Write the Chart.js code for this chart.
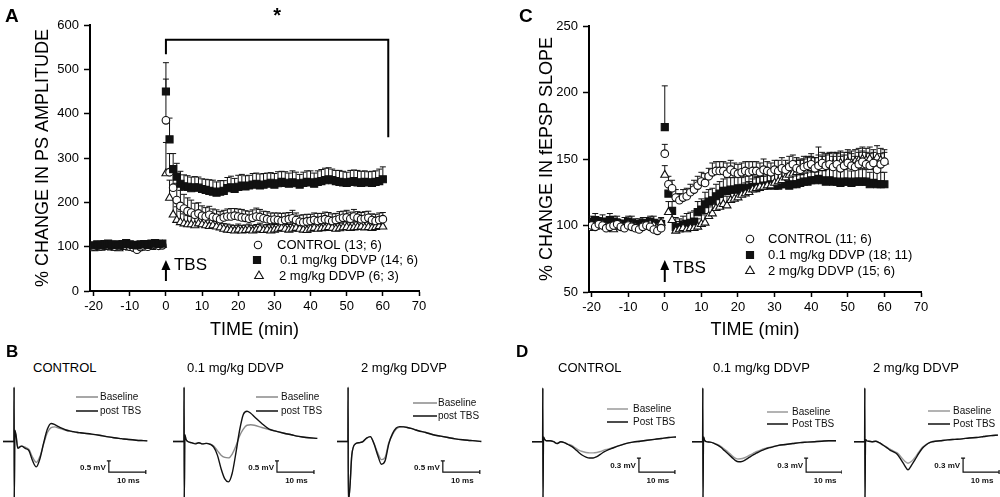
<!DOCTYPE html>
<html><head><meta charset="utf-8">
<script src="https://cdn.jsdelivr.net/npm/chart.js@4.4.0/dist/chart.umd.min.js"></script>
<style>
html,body{margin:0;padding:0;background:#fff;}
#wrap{position:relative;width:1000px;height:497px;overflow:hidden;font-family:'Liberation Sans',Arial,sans-serif;color:#000;}
canvas{position:absolute;}
.lbl{position:absolute;line-height:1;white-space:nowrap;}
.big{font-weight:bold;}
</style></head><body>
<div id="wrap">
<canvas id="cA" width="470" height="345" style="left:0;top:0"></canvas>
<canvas id="cC" width="440" height="345" style="left:500px;top:0"></canvas>
<canvas id="b1" width="152" height="112" style="left:3px;top:385px"></canvas>
<canvas id="b2" width="152" height="112" style="left:173px;top:385px"></canvas>
<canvas id="b3" width="152" height="112" style="left:337px;top:385px"></canvas>
<canvas id="d1" width="150" height="112" style="left:532px;top:385px"></canvas>
<canvas id="d2" width="150" height="112" style="left:692px;top:385px"></canvas>
<canvas id="d3" width="146" height="112" style="left:854px;top:385px"></canvas>
<div class="lbl big" style="left:5px;top:6px;font-size:19px">A</div>
<div class="lbl big" style="left:519px;top:6px;font-size:19px">C</div>
<div class="lbl big" style="left:6px;top:343px;font-size:17px">B</div>
<div class="lbl big" style="left:516px;top:343px;font-size:17px">D</div>
<div class="lbl" style="left:33px;top:361px;font-size:13px">CONTROL</div>
<div class="lbl" style="left:187px;top:361px;font-size:13px">0.1 mg/kg DDVP</div>
<div class="lbl" style="left:361px;top:361px;font-size:13px">2 mg/kg DDVP</div>
<div class="lbl" style="left:558px;top:361px;font-size:13px">CONTROL</div>
<div class="lbl" style="left:713px;top:361px;font-size:13px">0.1 mg/kg DDVP</div>
<div class="lbl" style="left:873px;top:361px;font-size:13px">2 mg/kg DDVP</div>
</div>
<script>
const FONT = "'Liberation Sans', Arial, sans-serif";

// ---------- time axis (min) ----------
const timeMin = [-20,-19,-18,-17,-16,-15,-14,-13,-12,-11,-10,-9,-8,-7,-6,-5,-4,-3,-2,-1,
0,1,2,3,4,5,6,7,8,9,10,11,12,13,14,15,16,17,18,19,20,21,22,23,24,25,26,27,28,29,
30,31,32,33,34,35,36,37,38,39,40,41,42,43,44,45,46,47,48,49,50,51,52,53,54,55,56,57,58,59,60];
const xTicks = [-20,-10,0,10,20,30,40,50,60,70];
const ampTicks = [0,100,200,300,400,500,600];
const slopeTicks = [50,100,150,200,250];

// ---------- Panel A: PS amplitude (%) ----------
const ampLabels = ['CONTROL (13; 6)','0.1 mg/kg DDVP (14; 6)','2 mg/kg DDVP (6; 3)'];
const ampControl = [100,102,101,104,103,102,100,101,104,102,100,98,93,99,101,100,103,104,102,103,
385,268,233,205,192,186,180,177,172,175,
170,168,172,167,165,162,166,168,168,170,
168,166,165,163,165,168,167,164,162,160,
161,160,158,160,162,164,160,156,155,157,
158,160,158,160,162,160,158,160,163,165,
166,163,168,165,162,163,165,160,158,160,
162];
const ampControlErr = [5,6,5,7,6,5,6,5,7,6,5,6,7,5,6,5,6,7,6,5,
93,42,40,38,35,32,30,28,26,24,
22,20,19,18,18,17,16,17,18,16,
17,18,16,17,18,19,17,16,17,16,
15,16,17,16,15,18,16,15,17,16,
15,16,17,15,16,17,16,15,16,15,
16,15,16,14,15,16,15,14,15,16,
15];
const ampLow = [103,105,104,106,107,104,105,103,106,108,105,104,103,105,106,104,107,108,106,107,
450,342,275,258,242,236,235,232,234,233,
230,228,226,224,222,224,226,232,234,230,
235,238,236,238,240,242,238,240,242,244,
240,243,246,244,242,245,243,240,244,246,
245,242,246,248,250,252,250,248,246,245,
244,246,248,245,244,246,245,244,246,248,
252];
const ampLowErr = [6,5,7,6,5,6,7,5,6,7,5,6,5,7,6,5,6,7,6,5,
65,48,35,30,28,26,25,25,24,24,
23,24,25,26,24,25,23,24,25,24,
26,25,24,23,25,24,26,25,24,23,
25,26,24,25,24,26,25,23,24,25,
26,24,25,26,27,26,25,24,26,25,
24,26,25,27,26,25,24,26,25,27,
28];
const ampHigh = [96,98,97,99,100,98,97,96,99,100,98,97,99,98,100,101,99,102,103,104,
265,210,172,160,155,152,150,150,148,152,
150,148,146,148,145,143,140,138,137,136,
138,136,137,138,136,138,140,137,138,136,
138,140,142,140,138,140,142,140,138,137,
140,142,140,141,142,144,142,140,141,143,
144,142,143,144,145,143,144,142,144,146,
145];
const ampHighErr = [5,6,5,6,7,5,6,5,6,5,7,6,5,6,5,6,7,5,6,5,
70,40,35,30,25,22,20,18,17,16,
15,15,14,14,13,13,12,13,12,12,
13,12,12,13,12,12,13,12,12,13,
12,12,13,12,12,13,12,13,12,12,
13,12,12,13,12,12,13,12,12,13,
12,12,13,12,12,13,12,12,13,12,
12];
const bracketX = [0,0,61.5,61.5];
const bracketY = [534,567,567,347];

// ---------- Panel C: fEPSP slope (%) ----------
const slopeLabels = ['CONTROL (11; 6)','0.1 mg/kg DDVP (18; 11)','2 mg/kg DDVP (15; 6)'];
const slopeControl = [100,99,101,100,98,99,100,101,99,98,100,99,98,97,99,100,99,97,96,98,
154,131,128,121,119,121,122,125,127,130,
133,132,137,140,141,141,141,139,142,140,
139,140,141,140,141,141,140,142,141,140,
142,141,143,142,144,146,143,142,144,145,
146,143,145,147,145,146,144,146,143,145,
147,145,144,146,148,146,145,147,142,146,
148];
const slopeControlErr = [3,4,3,4,3,4,3,4,3,4,3,4,3,4,3,4,3,4,3,4,
7,6,6,6,5,6,6,6,7,7,
7,7,6,7,7,7,7,8,7,7,
7,7,7,8,7,7,7,8,7,7,
7,8,8,7,8,7,8,8,8,7,
8,8,14,8,8,9,8,8,9,8,
8,9,8,9,8,9,9,8,9,8,
7];
const slopeLow = [103,104,102,103,101,104,103,102,100,101,103,102,101,100,102,101,103,102,100,101,
174,124,111,99,98,100,101,102,103,110,
112,116,118,119,122,124,126,126,127,127,
128,127,128,128,129,128,129,130,130,131,
130,130,131,131,130,131,131,132,133,133,
134,134,135,134,133,134,133,133,132,133,
133,132,133,133,133,133,131,132,131,131,
131];
const slopeLowErr = [4,5,4,5,4,5,4,5,4,5,4,5,4,5,4,5,4,5,4,5,
31,6,7,7,7,7,8,8,8,8,
8,9,9,9,9,9,9,10,9,9,
10,9,9,10,9,9,10,9,9,10,
9,9,10,9,10,9,9,10,9,10,
9,10,9,10,9,10,9,10,9,9,
10,9,10,9,10,9,9,10,9,9,
9];
const slopeHigh = [98,99,100,101,99,98,97,99,100,99,101,100,99,98,100,99,101,100,99,102,
138,110,104,96,97,98,97,98,98,99,
101,102,107,109,113,114,116,115,119,120,
121,123,124,125,127,128,129,129,130,130,
132,133,134,136,138,139,140,140,141,142,
143,142,144,143,145,145,146,146,147,146,
148,147,148,149,150,149,150,148,151,149,
148];
const slopeHighErr = [4,3,4,3,4,3,4,3,4,3,4,3,4,3,4,3,4,3,4,3,
7,8,8,7,6,6,6,6,6,6,
7,7,7,7,7,7,7,7,7,8,
8,8,8,8,8,8,8,8,8,8,
9,9,9,9,9,9,9,9,9,9,
9,9,9,9,9,9,9,9,9,9,
9,9,9,9,9,9,9,9,9,9,
9];

// ---------- Panel B traces (ms, mV) ----------
const traceMsB = [0,2,2.95,3,3.05,3.2,3.5,4,5,6,7,8,9,10,11,12,13,14,15,16,17,18,19,20,21,22,24,26,28,30,32,34,36,38,39];
const bCtrlBase = [0,0,0,2.4,-2.6,0.4,0.3,-0.25,-0.2,-0.25,-0.35,-0.7,-0.92,-0.65,-0.1,0.4,0.62,0.65,0.6,0.55,0.5,0.46,0.43,0.4,0.38,0.36,0.32,0.28,0.22,0.17,0.13,0.09,0.06,0.04,0.03];
const bCtrlPost = [0,0,0,2.4,-2.6,0.5,0.3,-0.3,-0.2,-0.3,-0.4,-0.85,-1.12,-0.75,-0.05,0.55,0.8,0.75,0.66,0.58,0.51,0.47,0.44,0.41,0.39,0.37,0.33,0.28,0.22,0.17,0.13,0.09,0.06,0.04,0.03];
const bLowBase = [0,0,0,2.4,-2.6,0.3,0.1,0,-0.05,-0.08,-0.05,-0.1,-0.08,-0.1,-0.2,-0.4,-0.6,-0.7,-0.72,-0.55,-0.2,0.25,0.55,0.72,0.74,0.72,0.62,0.53,0.45,0.37,0.3,0.23,0.18,0.15,0.14];
const bLowPost = [0,0,0,2.4,-2.6,0.3,0.1,0,-0.05,-0.1,-0.05,-0.1,-0.08,-0.12,-0.25,-0.6,-1.2,-1.65,-1.78,-1.4,-0.5,0.5,1.2,1.34,1.25,1.1,0.8,0.55,0.45,0.37,0.3,0.23,0.18,0.15,0.14];
const bHighBase = [0,0,0,2.4,-2.6,-2.5,-2.0,-0.6,-0.1,-0.05,0,0.15,0.22,-0.08,-0.5,-0.8,-0.7,-0.05,0.3,0.55,0.64,0.66,0.62,0.58,0.53,0.48,0.4,0.3,0.24,0.18,0.12,0.08,0.05,0.02,0];
const bHighPost = [0,0,0,2.4,-2.6,-2.5,-2.0,-0.6,-0.1,-0.05,0,0.15,0.22,-0.1,-0.6,-1.0,-0.85,-0.1,0.35,0.6,0.66,0.65,0.62,0.58,0.53,0.48,0.4,0.3,0.24,0.18,0.12,0.08,0.05,0.02,0];

// ---------- Panel D traces (ms, mV) ----------
const traceMsD = [0,2,2.95,3,3.05,3.2,3.5,4,5,6,7,8,9,10,11,12,13,14,15,16,17,18,19,20,21,22,24,26,28,30,32,34,36,38,40];
const dCtrlBase = [0,0,0,1.15,-1.3,0.1,0.05,0.02,0.02,0,-0.04,0,-0.02,-0.05,-0.08,-0.13,-0.18,-0.21,-0.23,-0.24,-0.24,-0.23,-0.21,-0.18,-0.16,-0.14,-0.09,-0.04,-0.01,0.01,0.03,0.05,0.07,0.09,0.1];
const dCtrlPost = [0,0,0,1.15,-1.3,0.1,0.05,0.02,0.02,0,-0.04,0,-0.02,-0.06,-0.1,-0.16,-0.23,-0.29,-0.33,-0.35,-0.35,-0.32,-0.27,-0.22,-0.18,-0.15,-0.09,-0.04,-0.01,0.01,0.03,0.05,0.07,0.09,0.1];
const dLowBase = [0,0,0,1.15,-1.3,0.1,0.03,0,-0.01,-0.03,-0.06,-0.1,-0.16,-0.22,-0.29,-0.35,-0.37,-0.36,-0.33,-0.29,-0.25,-0.21,-0.18,-0.15,-0.13,-0.11,-0.08,-0.06,-0.04,-0.02,-0.01,0,0.01,0.02,0.02];
const dLowPost = [0,0,0,1.15,-1.3,0.1,0.03,0,-0.01,-0.03,-0.07,-0.12,-0.19,-0.26,-0.33,-0.4,-0.43,-0.42,-0.38,-0.33,-0.28,-0.24,-0.2,-0.17,-0.14,-0.12,-0.08,-0.06,-0.04,-0.02,-0.01,0,0.01,0.02,0.02];
const dHighBase = [0,0,0,1.15,-1.3,0.05,0.02,0.01,0,0.01,-0.02,-0.07,-0.11,-0.16,-0.2,-0.24,-0.32,-0.41,-0.46,-0.42,-0.33,-0.22,-0.12,-0.06,-0.02,0.01,0.02,0.04,0.05,0.06,0.08,0.09,0.11,0.13,0.14];
const dHighPost = [0,0,0,1.15,-1.3,0.05,0.02,0.01,0,0.01,-0.02,-0.07,-0.12,-0.18,-0.22,-0.27,-0.38,-0.5,-0.6,-0.5,-0.38,-0.25,-0.14,-0.07,-0.02,0,0.02,0.04,0.05,0.06,0.08,0.09,0.11,0.13,0.14];

// ---------- plugins ----------
function drawMarker(ctx, style, x, y, r) {
  ctx.beginPath();
  if (style === 'rect') { const s = r * Math.SQRT1_2; ctx.rect(x - s, y - s, 2 * s, 2 * s); }
  else if (style === 'triangle') { ctx.moveTo(x, y - r); ctx.lineTo(x + r * 0.866, y + r / 2); ctx.lineTo(x - r * 0.866, y + r / 2); ctx.closePath(); }
  else { ctx.arc(x, y, r, 0, Math.PI * 2); }
  ctx.fill(); ctx.stroke();
}
const errPlugin = {
  id: 'errBars',
  beforeDatasetsDraw(chart) {
    const ctx = chart.ctx, ys = chart.scales.y;
    ctx.save(); ctx.strokeStyle = '#111'; ctx.lineWidth = 1;
    chart.data.datasets.forEach((ds, di) => {
      if (!ds.err) return;
      const meta = chart.getDatasetMeta(di);
      meta.data.forEach((pt, i) => {
        const e = ds.err[i]; if (e == null) return;
        const yTop = ys.getPixelForValue(ds.data[i].y + e);
        ctx.beginPath();
        ctx.moveTo(pt.x, pt.y); ctx.lineTo(pt.x, yTop);
        ctx.moveTo(pt.x - 3, yTop); ctx.lineTo(pt.x + 3, yTop);
        ctx.stroke();
      });
    });
    ctx.restore();
  }
};
const keyPlugin = {
  id: 'seriesKey',
  afterDatasetsDraw(chart, args, o) {
    if (!o || !o.rows) return;
    const ctx = chart.ctx;
    ctx.save();
    o.rows.forEach(r => {
      const ds = chart.data.datasets[r.ds];
      ctx.fillStyle = ds.backgroundColor; ctx.strokeStyle = ds.borderColor; ctx.lineWidth = 1.1;
      drawMarker(ctx, ds.pointStyle, r.mx, r.y, r.r);
      ctx.fillStyle = '#000'; ctx.font = '13px ' + FONT; ctx.textBaseline = 'middle'; ctx.textAlign = 'left';
      ctx.fillText(ds.label, r.tx, r.y + 0.5);
    });
    const x = chart.scales.x.getPixelForValue(0), b = chart.chartArea.bottom;
    const y1 = b - o.arrow.bottom, y2 = b - o.arrow.top;
    ctx.strokeStyle = '#000'; ctx.fillStyle = '#000'; ctx.lineWidth = 2;
    ctx.beginPath(); ctx.moveTo(x, y1); ctx.lineTo(x, y2 + 8); ctx.stroke();
    ctx.beginPath(); ctx.moveTo(x, y2); ctx.lineTo(x - 4.5, y2 + 10); ctx.lineTo(x + 4.5, y2 + 10); ctx.closePath(); ctx.fill();
    ctx.font = '17px ' + FONT; ctx.textBaseline = 'middle'; ctx.textAlign = 'left';
    ctx.fillText('TBS', x + o.arrow.dx, b - o.arrow.dy);
    if (o.star) {
      ctx.font = 'bold 20px ' + FONT; ctx.textAlign = 'center'; ctx.textBaseline = 'middle';
      ctx.fillText('*', chart.scales.x.getPixelForValue(o.star.x), o.star.y);
    }
    ctx.restore();
  }
};
const traceDeco = {
  id: 'traceDeco',
  afterDatasetsDraw(chart, args, o) {
    const ctx = chart.ctx, xs = chart.scales.x, ys = chart.scales.y;
    ctx.save();
    const L = o.legend;
    const items = [[chart.data.datasets[1], L.y1, o.labels[0]], [chart.data.datasets[0], L.y2, o.labels[1]]];
    items.forEach(([ds, y, txt]) => {
      ctx.strokeStyle = ds.borderColor; ctx.lineWidth = 1.5;
      ctx.beginPath(); ctx.moveTo(L.x1, y); ctx.lineTo(L.x2, y); ctx.stroke();
      ctx.fillStyle = '#111'; ctx.font = '10px ' + FONT; ctx.textBaseline = 'middle'; ctx.textAlign = 'left';
      ctx.fillText(txt, L.tx, y + 0.5);
    });
    const B = o.bar;
    const x0 = xs.getPixelForValue(B.x), x1 = xs.getPixelForValue(B.x + B.dx);
    const yT = ys.getPixelForValue(B.y), yB = ys.getPixelForValue(B.y - B.dy);
    ctx.strokeStyle = '#111'; ctx.lineWidth = 1.2;
    ctx.beginPath();
    ctx.moveTo(x0 - 2, yT); ctx.lineTo(x0 + 2, yT);
    ctx.moveTo(x0, yT); ctx.lineTo(x0, yB); ctx.lineTo(x1, yB);
    ctx.moveTo(x1, yB - 2); ctx.lineTo(x1, yB + 2);
    ctx.stroke();
    ctx.font = 'bold 8px ' + FONT; ctx.fillStyle = '#111';
    ctx.textAlign = 'right'; ctx.textBaseline = 'middle';
    ctx.fillText(B.ly, x0 - 3, (yT + yB) / 2 + 1);
    ctx.textAlign = 'center';
    ctx.fillText(B.lx, (x0 + x1) / 2 + 1, yB + 9);
    ctx.restore();
  }
};

// ---------- builders ----------
function pts(xs, ys) { return ys.map((v, i) => ({ x: xs[i], y: v })); }

function topChart(id, c) {
  const datasets = [];
  c.series.forEach(s => datasets.push({
    label: s.label, data: pts(timeMin, s.values), err: s.err, showLine: false,
    pointStyle: s.style, pointRadius: s.r, pointHoverRadius: s.r,
    backgroundColor: s.fill, borderColor: '#111', pointBorderWidth: 1.1, borderWidth: 1.1
  }));
  if (c.bracket) datasets.push({ label: 'bracket', data: pts(c.bracket.x, c.bracket.y), showLine: true,
    borderColor: '#000', borderWidth: 2, pointRadius: 0, tension: 0, fill: false });
  new Chart(document.getElementById(id), {
    type: 'line',
    data: { datasets },
    options: {
      responsive: false, animation: false, events: [],
      layout: { padding: { left: c.padL, right: c.padR, top: c.padT, bottom: 0 } },
      scales: {
        x: {
          type: 'linear', min: c.xmin, max: 70,
          afterFit: s => { s.height = c.xH; },
          afterBuildTicks: s => { s.ticks = xTicks.map(v => ({ value: v })); },
          ticks: { font: { family: FONT, size: 13 }, color: '#000', padding: 3, maxRotation: 0, autoSkip: false },
          grid: { drawOnChartArea: false, tickLength: 5, tickWidth: 1.5, tickColor: '#000' },
          border: { color: '#000', width: 2 },
          title: { display: true, text: 'TIME (min)', font: { family: FONT, size: 18 }, color: '#000', padding: { top: 4, bottom: 4 } }
        },
        y: {
          type: 'linear', min: c.ymin, max: c.ymax,
          afterFit: s => { s.width = c.yW; },
          afterBuildTicks: s => { s.ticks = c.yTicks.map(v => ({ value: v })); },
          ticks: { font: { family: FONT, size: 13 }, color: '#000', padding: 5, autoSkip: false },
          grid: { drawOnChartArea: false, tickLength: 6, tickWidth: 1.5, tickColor: '#000' },
          border: { color: '#000', width: 2 },
          title: { display: true, text: c.yTitle, font: { family: FONT, size: 18 }, color: '#000', padding: { top: 4, bottom: 4 } }
        }
      },
      plugins: { legend: { display: false }, tooltip: { enabled: false }, seriesKey: c.key }
    },
    plugins: [errPlugin, keyPlugin]
  });
}

topChart('cA', {
  padL: 28, padR: 51, padT: 25, xH: 54, yW: 62, xmin: -21, ymin: 0, ymax: 600, yTicks: ampTicks,
  yTitle: '% CHANGE IN PS AMPLITUDE',
  series: [
    { label: ampLabels[1], values: ampLow, err: ampLowErr, style: 'rect', r: 5, fill: '#111' },
    { label: ampLabels[0], values: ampControl, err: ampControlErr, style: 'circle', r: 3.8, fill: '#fff' },
    { label: ampLabels[2], values: ampHigh, err: ampHighErr, style: 'triangle', r: 4.6, fill: '#fff' }
  ],
  bracket: { x: bracketX, y: bracketY },
  key: {
    rows: [
      { ds: 1, mx: 258, tx: 277, y: 245, r: 3.7 },
      { ds: 0, mx: 257, tx: 280, y: 260, r: 5 },
      { ds: 2, mx: 259, tx: 279, y: 276, r: 5 }
    ],
    arrow: { bottom: 10, top: 31, dx: 8, dy: 26 },
    star: { x: 30.75, y: 16 }
  }
});

topChart('cC', {
  padL: 32, padR: 19, padT: 26, xH: 53, yW: 57, xmin: -20.7, ymin: 50, ymax: 250, yTicks: slopeTicks,
  yTitle: '% CHANGE IN fEPSP SLOPE',
  series: [
    { label: slopeLabels[0], values: slopeControl, err: slopeControlErr, style: 'circle', r: 3.8, fill: '#fff' },
    { label: slopeLabels[2], values: slopeHigh, err: slopeHighErr, style: 'triangle', r: 4.6, fill: '#fff' },
    { label: slopeLabels[1], values: slopeLow, err: slopeLowErr, style: 'rect', r: 5, fill: '#111' }
  ],
  key: {
    rows: [
      { ds: 0, mx: 250, tx: 268, y: 239, r: 3.7 },
      { ds: 2, mx: 250, tx: 268, y: 255, r: 5 },
      { ds: 1, mx: 250, tx: 268, y: 271, r: 5 }
    ],
    arrow: { bottom: 10, top: 32, dx: 8, dy: 24 }
  }
});

function traceChart(id, t, base, post, o) {
  new Chart(document.getElementById(id), {
    type: 'line',
    data: { datasets: [
      { label: o.labels[1], data: pts(t, post), borderColor: '#111', borderWidth: 1.4, pointRadius: 0, cubicInterpolationMode: 'monotone' },
      { label: o.labels[0], data: pts(t, base), borderColor: o.gray, borderWidth: 1.4, pointRadius: 0, cubicInterpolationMode: 'monotone' }
    ]},
    options: {
      responsive: false, animation: false, events: [],
      layout: { padding: { left: 0, right: o.padR, top: 0, bottom: 0 } },
      scales: {
        x: { type: 'linear', display: false, min: 0, max: 40 },
        y: { type: 'linear', display: false, min: o.ymin, max: o.ymax }
      },
      plugins: { legend: { display: false }, tooltip: { enabled: false }, traceDeco: o }
    },
    plugins: [traceDeco]
  });
}
const labB = ['Baseline', 'post TBS'], labD = ['Baseline', 'Post TBS'];
traceChart('b1', traceMsB, bCtrlBase, bCtrlPost, { labels: labB, gray: '#8a8a8a', padR: 4, ymin: -2.45, ymax: 2.5,
  legend: { x1: 73, x2: 95, tx: 97, y1: 12, y2: 26 }, bar: { x: 28.6, y: -0.85, dx: 10, dy: 0.5, ly: '0.5 mV', lx: '10 ms' } });
traceChart('b2', traceMsB, bLowBase, bLowPost, { labels: labB, gray: '#8a8a8a', padR: 4, ymin: -2.45, ymax: 2.5,
  legend: { x1: 83, x2: 105, tx: 108, y1: 12, y2: 26 }, bar: { x: 28.1, y: -0.85, dx: 10, dy: 0.5, ly: '0.5 mV', lx: '10 ms' } });
traceChart('b3', traceMsB, bHighBase, bHighPost, { labels: labB, gray: '#8a8a8a', padR: 4, ymin: -2.45, ymax: 2.5,
  legend: { x1: 76, x2: 100, tx: 101, y1: 18, y2: 31 }, bar: { x: 28.6, y: -0.85, dx: 10, dy: 0.5, ly: '0.5 mV', lx: '10 ms' } });
traceChart('d1', traceMsD, dCtrlBase, dCtrlPost, { labels: labD, gray: '#9a9a9a', padR: 6, ymin: -1.184, ymax: 1.214,
  legend: { x1: 75, x2: 96, tx: 101, y1: 24, y2: 37 }, bar: { x: 29.7, y: -0.35, dx: 10, dy: 0.3, ly: '0.3 mV', lx: '10 ms' } });
traceChart('d2', traceMsD, dLowBase, dLowPost, { labels: labD, gray: '#9a9a9a', padR: 6, ymin: -1.184, ymax: 1.214,
  legend: { x1: 75, x2: 96, tx: 100, y1: 27, y2: 39 }, bar: { x: 31.7, y: -0.35, dx: 10, dy: 0.3, ly: '0.3 mV', lx: '10 ms' } });
traceChart('d3', traceMsD, dHighBase, dHighPost, { labels: labD, gray: '#9a9a9a', padR: 2, ymin: -1.184, ymax: 1.214,
  legend: { x1: 74, x2: 96, tx: 99, y1: 26, y2: 39 }, bar: { x: 30.3, y: -0.35, dx: 10, dy: 0.3, ly: '0.3 mV', lx: '10 ms' } });
</script>
</body></html>
